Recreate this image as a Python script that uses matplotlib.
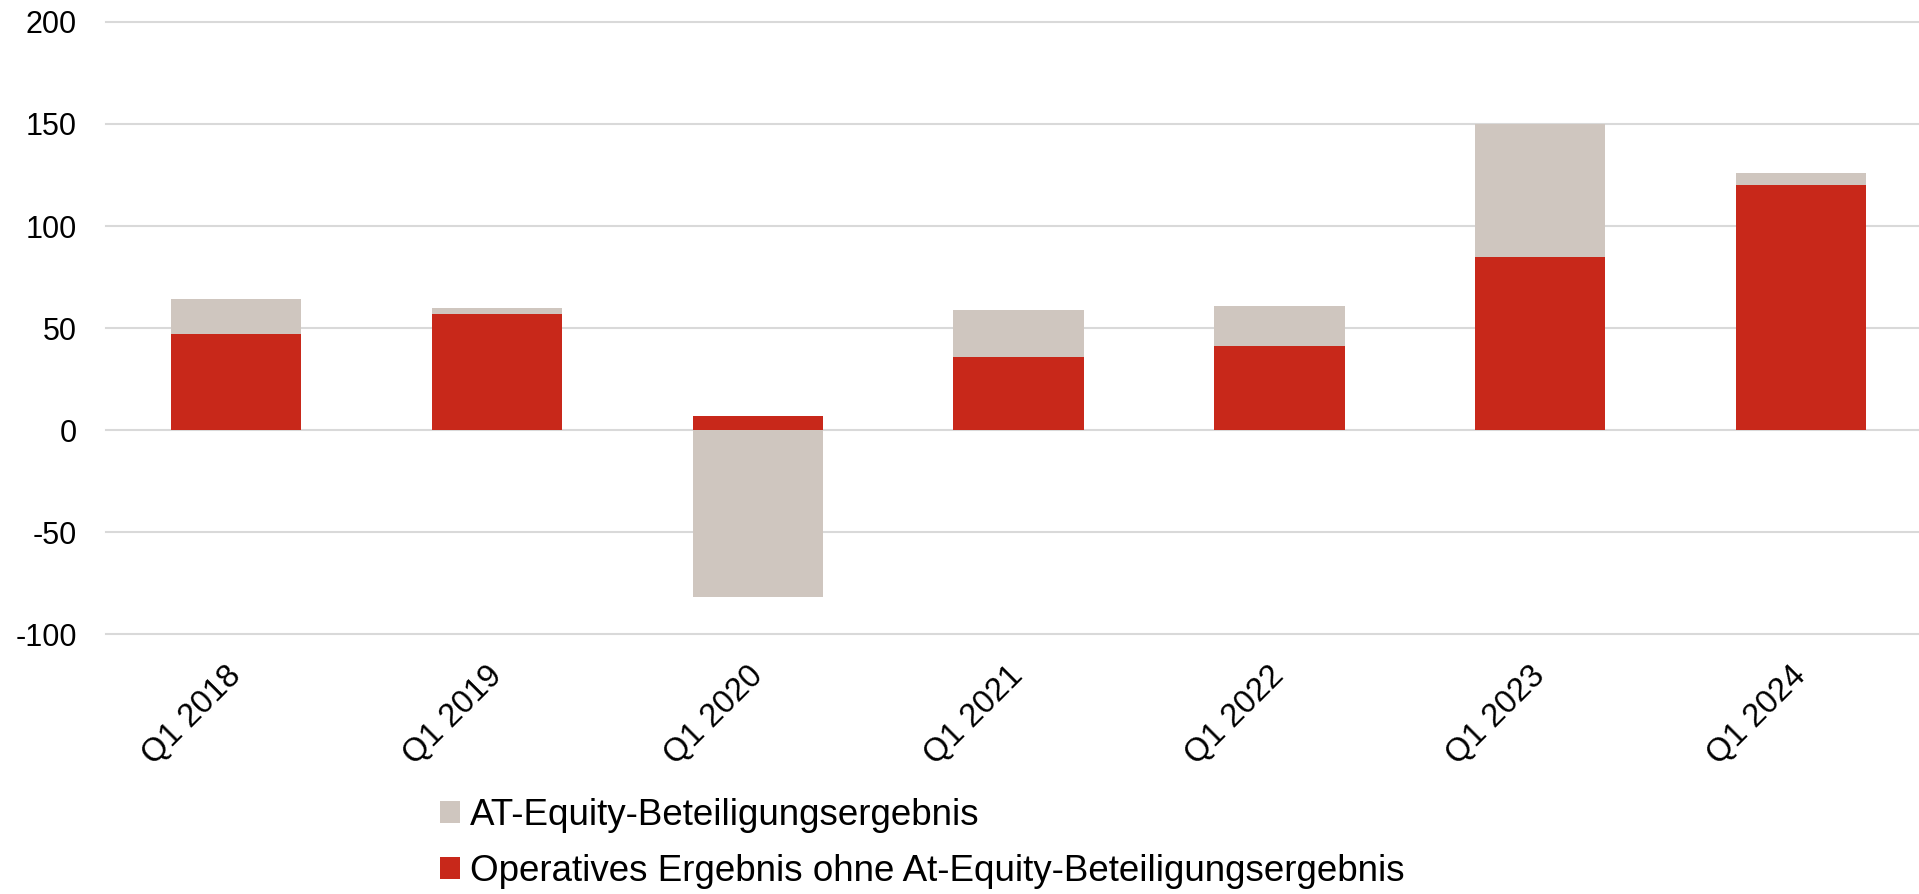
import matplotlib
matplotlib.use("Agg")
import matplotlib.pyplot as plt
import numpy as np

QUARTERS = ["Q1 2018", "Q1 2019", "Q1 2020", "Q1 2021", "Q1 2022", "Q1 2023", "Q1 2024"]
OPERATIVE = [47, 57, 7, 36, 41, 85, 120]
AT_EQUITY = [17, 3, -82, 23, 20, 65, 6]
Y_TICKS = [-100, -50, 0, 50, 100, 150, 200]

LABEL_EQUITY = "AT-Equity-Beteiligungsergebnis"
LABEL_OPERATIVE = "Operatives Ergebnis ohne At-Equity-Beteiligungsergebnis"

RED = "#C8281A"
GREY = "#CFC6BF"
GRID = "#D9D9D9"

plt.rcParams["font.family"] = ["Liberation Sans", "DejaVu Sans"]

fig = plt.figure(figsize=(19.19, 8.94), dpi=100)
ax = fig.add_axes([0.0552, 0.2908, 0.9448, 0.6846])

x = np.arange(len(QUARTERS))
operative = np.array(OPERATIVE, dtype=float)
equity = np.array(AT_EQUITY, dtype=float)
# positive parts stack on top of the red bar, negative parts hang from zero
equity_bottom = np.where(equity >= 0, operative, 0.0)

ax.bar(x, operative, width=0.5, color=RED, zorder=3, label=LABEL_OPERATIVE)
ax.bar(x, equity, width=0.5, bottom=equity_bottom, color=GREY, zorder=3,
       label=LABEL_EQUITY)

ax.set_xlim(-0.5, 6.453)
ax.set_ylim(-100, 200)
ax.set_yticks(Y_TICKS)
ax.set_yticklabels([str(v) for v in Y_TICKS], fontsize=22)
for v in Y_TICKS:
    ax.axhline(v, color=GRID, linewidth=1.5, zorder=1, clip_on=False)

ax.set_xticks(x)
ax.set_xticklabels(QUARTERS, fontsize=23.5, rotation=45, ha="right",
                   va="center", rotation_mode="anchor")
ax.tick_params(axis="y", length=0, pad=21)
ax.tick_params(axis="x", length=0, pad=27)
for spine in ax.spines.values():
    spine.set_visible(False)

handles, labels = ax.get_legend_handles_labels()
fig.legend(handles[::-1], labels[::-1], loc="upper left",
           bbox_to_anchor=(0.2293, 0.107), frameon=False, fontsize=26.5,
           handlelength=0.54, handleheight=0.54, handletextpad=0.27,
           labelspacing=0.56, borderaxespad=0, borderpad=0)

fig.savefig("out.png", dpi=100)
